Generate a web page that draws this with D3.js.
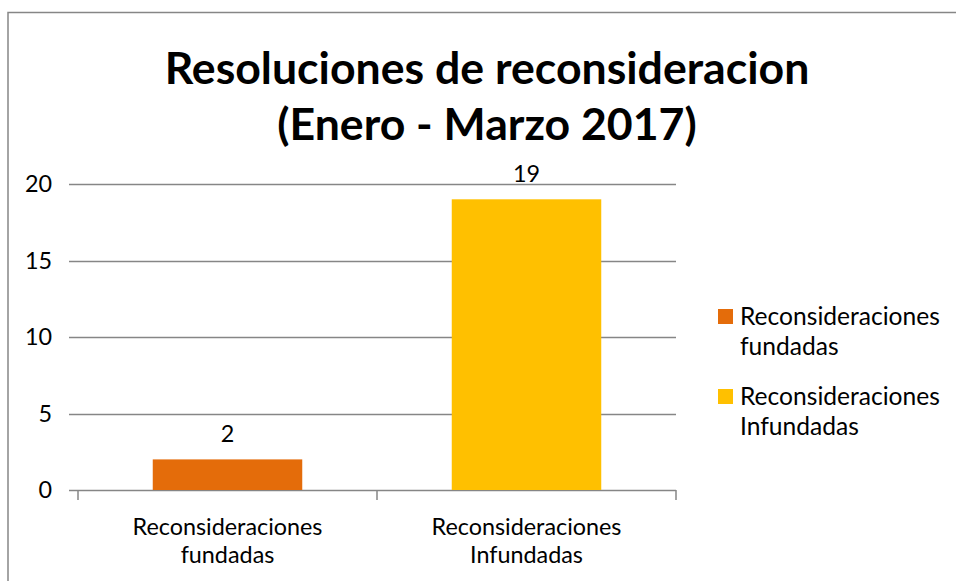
<!DOCTYPE html>
<html>
<head>
<meta charset="utf-8">
<script src="https://cdn.jsdelivr.net/npm/d3@7/dist/d3.min.js"></script>
<style>
  html, body { margin: 0; padding: 0; background: #fff; }
  svg { display: block; }
  text { font-family: Lato, "Open Sans", "Liberation Sans", sans-serif; fill: #000; }
</style>
</head>
<body>
<svg id="chart" width="956" height="581"></svg>
<script>
const titleLines = ["Resoluciones de reconsideracion", "(Enero - Marzo 2017)"];
const categories = [["Reconsideraciones", "fundadas"], ["Reconsideraciones", "Infundadas"]];
const seriesNames = [["Reconsideraciones", "fundadas"], ["Reconsideraciones", "Infundadas"]];
const values = [2, 19];
const colors = ["#E46C0A", "#FFC000"];
const yTicks = [0, 5, 10, 15, 20];

const svg = d3.select("#chart");
const W = 956, H = 581;
svg.append("rect").attr("width", W).attr("height", H).attr("fill", "#fff");
svg.append("rect").attr("x", 8).attr("y", 12.5).attr("width", W + 20).attr("height", H + 20)
  .attr("fill", "none").attr("stroke", "#868686").attr("stroke-width", 1.5);

const plot = { left: 78, right: 676, top: 184, bottom: 490 };
const catKeys = categories.map(c => c.join(" "));
const x = d3.scaleBand().domain(catKeys).range([plot.left, plot.right]).paddingInner(0.5).paddingOuter(0.25);
const xOuter = d3.scaleBand().domain(catKeys).range([plot.left, plot.right]);
const y = d3.scaleLinear().domain([0, 20]).range([plot.bottom, plot.top]);

// measure a size so that a text reaches a target width
function fitSize(text, target, weight) {
  const t = svg.append("text").attr("font-size", 40).attr("font-weight", weight || "normal").text(text);
  const w = t.node().getComputedTextLength();
  t.remove();
  return 40 * target / w;
}
const fsAxis = fitSize("Reconsideraciones", 190);
const fsLegend = fitSize("Reconsideraciones", 200);
const fsTitle = fitSize(titleLines[0], 645, "bold");

svg.append("g").selectAll("line").data(yTicks).join("line")
  .attr("x1", plot.left - 9).attr("x2", plot.right)
  .attr("y1", d => Math.round(y(d)) + 0.5).attr("y2", d => Math.round(y(d)) + 0.5)
  .attr("stroke", "#868686").attr("stroke-width", 1.5);

svg.append("g").selectAll("text").data(yTicks).join("text")
  .attr("x", 52).attr("y", d => y(d) + 8).attr("text-anchor", "end")
  .attr("font-size", fsAxis).text(d => d);

const tickXs = [plot.left, ...catKeys.map(k => xOuter(k) + xOuter.bandwidth())];
svg.append("g").selectAll("line").data(tickXs).join("line")
  .attr("x1", d => d).attr("x2", d => d).attr("y1", plot.bottom).attr("y2", plot.bottom + 10)
  .attr("stroke", "#868686").attr("stroke-width", 1.5);

svg.append("g").selectAll("rect").data(values).join("rect")
  .attr("x", (d, i) => x(catKeys[i])).attr("width", x.bandwidth())
  .attr("y", d => y(d)).attr("height", d => y(0) - y(d))
  .attr("fill", (d, i) => colors[i]);

svg.append("g").selectAll("text").data(values).join("text")
  .attr("x", (d, i) => x(catKeys[i]) + x.bandwidth() / 2).attr("y", d => y(d) - 17)
  .attr("text-anchor", "middle").attr("font-size", fsAxis).text(d => d);

categories.forEach((lines, i) => {
  const cx = xOuter(catKeys[i]) + xOuter.bandwidth() / 2;
  lines.forEach((t, j) => {
    svg.append("text").attr("x", cx).attr("y", 535 + j * 28)
      .attr("text-anchor", "middle").attr("font-size", fsAxis).text(t);
  });
});

seriesNames.forEach((lines, i) => {
  const top = 309 + i * 80;
  svg.append("rect").attr("x", 718).attr("y", top).attr("width", 15).attr("height", 15).attr("fill", colors[i]);
  lines.forEach((t, j) => {
    svg.append("text").attr("x", 740).attr("y", top + 16 + j * 30)
      .attr("font-size", fsLegend).text(t);
  });
});

titleLines.forEach((t, j) => {
  svg.append("text").attr("x", 487).attr("y", 84 + j * 56)
    .attr("text-anchor", "middle").attr("font-weight", "bold").attr("font-size", fsTitle).text(t);
});
</script>
</body>
</html>
